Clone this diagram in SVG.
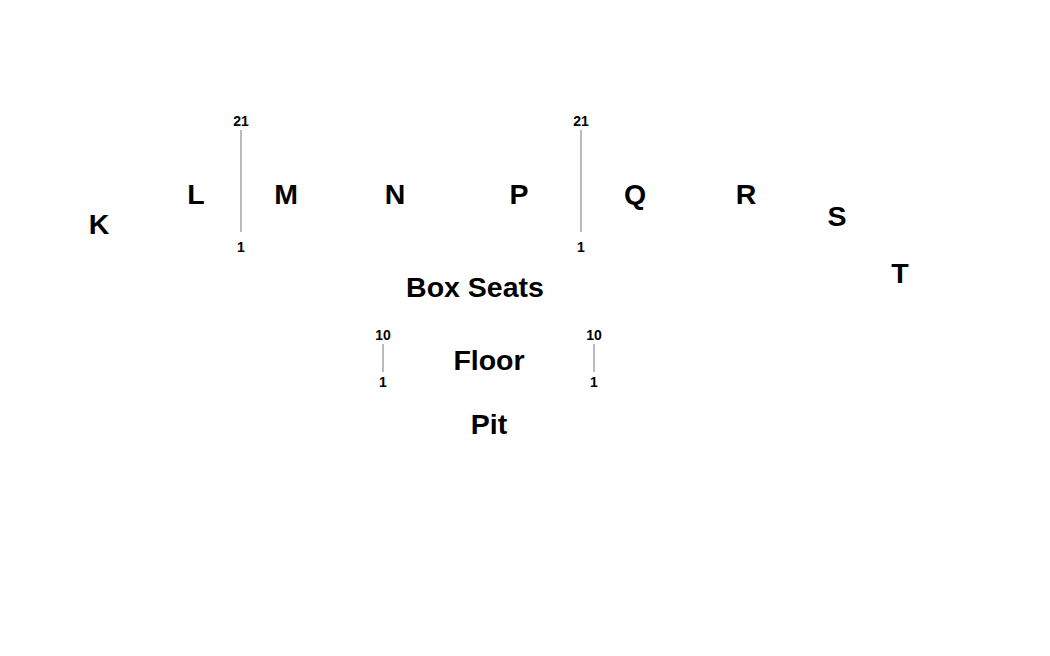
<svg xmlns="http://www.w3.org/2000/svg" width="1050" height="656" viewBox="0 0 1050 656">
<style>
.big{font-family:"Liberation Sans",Arial,sans-serif;font-weight:bold;font-size:28.5px;fill:#000;text-anchor:middle}
.num{font-family:"Liberation Sans",Arial,sans-serif;font-weight:bold;font-size:14px;fill:#000;text-anchor:middle}
.ln{stroke:#777;stroke-width:1;fill:none}
</style>
<rect width="1050" height="656" fill="#fff"/>
<g id="sections">
<text id="K" class="big" x="99" y="234">K</text>
<text id="L" class="big" x="196" y="204">L</text>
<text id="M" class="big" x="286" y="204">M</text>
<text id="N" class="big" x="395" y="204">N</text>
<text id="P" class="big" x="519" y="204">P</text>
<text id="Q" class="big" x="635" y="204">Q</text>
<text id="R" class="big" x="746" y="204">R</text>
<text id="S" class="big" x="837" y="226">S</text>
<text id="T" class="big" x="900" y="283">T</text>
<text id="box" class="big" x="475" y="297">Box Seats</text>
<text id="floor" class="big" x="489" y="370">Floor</text>
<text id="pit" class="big" x="489" y="434">Pit</text>
</g>
<g id="connectors">
<line class="ln" x1="241" y1="130" x2="241" y2="232"/>
<line class="ln" x1="581" y1="130" x2="581" y2="232"/>
<line class="ln" x1="383" y1="344" x2="383" y2="372"/>
<line class="ln" x1="594" y1="344" x2="594" y2="372"/>
</g>
<g id="numbers">
<text class="num" x="241" y="126">21</text>
<text class="num" x="241" y="252">1</text>
<text class="num" x="581" y="126">21</text>
<text class="num" x="581" y="252">1</text>
<text class="num" x="383" y="340">10</text>
<text class="num" x="383" y="387">1</text>
<text class="num" x="594" y="340">10</text>
<text class="num" x="594" y="387">1</text>
</g>
</svg>
